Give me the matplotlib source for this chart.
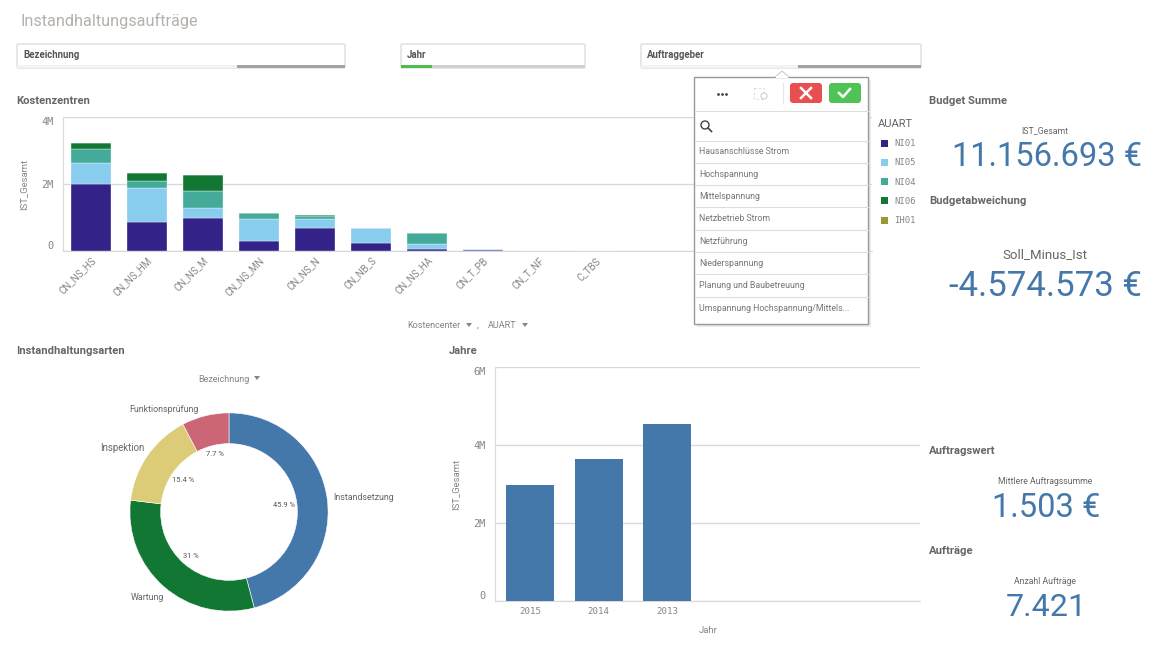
import matplotlib
matplotlib.use("Agg")
import matplotlib.pyplot as plt
from matplotlib.patches import Rectangle, FancyBboxPatch, Polygon

plt.rcParams["font.family"] = ["Roboto", "DejaVu Sans"]

W, H = 1163, 660

cost_centers = ["CN_NS_HS", "CN_NS_HM", "CN_NS_M", "CN_NS_MN", "CN_NS_N", "CN_NB_S",
                "CN_NS_HA", "CN_T_PB", "CN_T_NF", "C_TBS"]
ni01 = [2.00, 0.87, 1.00, 0.30, 0.69, 0.23, 0.05, 0.04, 0.008, 0.002]
ni05 = [0.63, 1.00, 0.28, 0.67, 0.28, 0.47, 0.16, 0.005, 0, 0]
ni04 = [0.42, 0.23, 0.51, 0.16, 0.07, 0, 0.32, 0, 0, 0]
ni06 = [0.17, 0.22, 0.49, 0, 0.02, 0, 0, 0, 0, 0]
ih01 = [0, 0, 0, 0, 0, 0, 0, 0, 0, 0]
auart_names = ["NI01", "NI05", "NI04", "NI06", "IH01"]
auart_colors = ["#332288", "#88ccee", "#44aa99", "#117733", "#999933"]

donut_labels = ["Instandsetzung", "Wartung", "Inspektion", "Funktionsprüfung"]
donut_values = [45.9, 31.0, 15.4, 7.7]
donut_pct = ["45.9 %", "31 %", "15.4 %", "7.7 %"]
donut_colors = ["#4477aa", "#117733", "#ddcc77", "#cc6677"]

years = ["2015", "2014", "2013"]
year_values = [2.97, 3.64, 4.54]

popup_items = ["Hausanschlüsse Strom", "Hochspannung", "Mittelspannung", "Netzbetrieb Strom",
               "Netzführung", "Niederspannung", "Planung und Baubetreuung",
               "Umspannung Hochspannung/Mittels..."]

GREY = "#858585"
HEAD = "#666666"
GRID = "#d9d9d9"
MONO = "DejaVu Sans Mono"


def pixel_axes(left, top, right, bottom, **kw):
    return fig.add_axes([left / W, 1 - bottom / H, (right - left) / W, (bottom - top) / H], **kw)


def y_tick_labels(a, labels):
    # first and last label sit inside the axis range
    a.set_yticklabels(labels, fontsize=7.4, color=GREY, family=MONO)
    ticks = a.get_yticklabels()
    ticks[0].set_va("bottom")
    ticks[-1].set_va("top")


fig = plt.figure(figsize=(W / 100, H / 100), dpi=100)

# stacked bars
ax = pixel_axes(63, 117, 872, 251)
bottom = [0] * len(cost_centers)
pos = list(range(len(cost_centers)))
for vals, c in zip([ni01, ni05, ni04, ni06, ih01], auart_colors):
    ax.bar(pos, vals, 0.71, bottom=bottom, color=c, edgecolor="white", linewidth=0.25, zorder=3)
    bottom = [b + v for b, v in zip(bottom, vals)]
ax.set_xlim(-0.5, 13.95)
ax.set_ylim(0, 4)
ax.set_yticks([0, 2, 4])
y_tick_labels(ax, ["0", "2M", "4M"])
ax.set_xticks(pos)
ax.set_xticklabels(cost_centers, rotation=45, ha="right", rotation_mode="anchor", fontsize=7, color=GREY)
ax.tick_params(axis="y", length=0, pad=7)
ax.tick_params(axis="x", length=0, pad=3)
ax.set_ylabel("IST_Gesamt", fontsize=6.8, color=GREY, labelpad=9)
ax.grid(axis="y", color=GRID, linewidth=1, zorder=0)
ax.spines[["top", "right"]].set_visible(False)
ax.spines[["left", "bottom"]].set_color(GRID)

# donut
ax2 = pixel_axes(119, 402, 339, 622)
ax2.pie(donut_values, colors=donut_colors, startangle=90, counterclock=False, radius=1,
        wedgeprops=dict(width=0.31, edgecolor="white", linewidth=0.4))
ax2.set_xlim(-1.11, 1.11)
ax2.set_ylim(-1.11, 1.11)

# yearly bars
ax3 = pixel_axes(495, 367, 920, 601)
ax3.bar(range(len(years)), year_values, 0.7, color="#4477aa", zorder=3)
ax3.set_xlim(-0.51, 5.69)
ax3.set_ylim(0, 6)
ax3.set_yticks([0, 2, 4, 6])
y_tick_labels(ax3, ["0", "2M", "4M", "6M"])
ax3.set_xticks(range(len(years)))
ax3.set_xticklabels(years, fontsize=6.6, color=GREY, family=MONO)
ax3.tick_params(axis="y", length=0, pad=7)
ax3.tick_params(axis="x", length=0, pad=4)
ax3.set_ylabel("IST_Gesamt", fontsize=6.8, color=GREY, labelpad=9)
ax3.set_xlabel("Jahr", fontsize=6.8, color=GREY)
ax3.xaxis.set_label_coords((708 - 495) / 425, -0.105)
ax3.grid(axis="y", color=GRID, linewidth=1, zorder=0)
ax3.spines[["top", "right"]].set_visible(False)
ax3.spines[["left", "bottom"]].set_color(GRID)

# overlay in pixel coordinates for the dashboard furniture
ov = fig.add_axes([0, 0, 1, 1], zorder=10)
ov.set_xlim(0, W)
ov.set_ylim(H, 0)
ov.axis("off")
ov.patch.set_alpha(0)


def label(x, y, s, size=7, color=GREY, ha="left", weight="normal", family=None):
    t = ov.text(x, y + 1, s, fontsize=size, color=color, ha=ha, va="center", fontweight=weight)
    if family:
        t.set_family(family)


label(20, 19.5, "Instandhaltungsaufträge", 11.7, "#b5b0ab")

# filter panes: (left, right, title, green end, grey start)
for l, r, name, green_end, grey_start in [(17, 345, "Bezeichnung", None, 237),
                                          (401, 585, "Jahr", 432, None),
                                          (641, 921, "Auftraggeber", None, 798)]:
    ov.add_patch(FancyBboxPatch((l, 44), r - l, 24, boxstyle="round,pad=0,rounding_size=1.5",
                                fc="white", ec="#dddddd", lw=1))
    label(l + 6, 53.5, name, 6.9, "#555555", weight="bold")
    ov.add_patch(Rectangle((l, 64.5), r - l, 3.5, fc="#d0d0d0" if green_end else "#f2f2f2", ec="none"))
    if green_end:
        ov.add_patch(Rectangle((l, 64.5), green_end - l, 3.5, fc="#4dbd50", ec="none"))
    if grey_start:
        ov.add_patch(Rectangle((grey_start, 64.5), r - grey_start, 3.5, fc="#a3a3a3", ec="none"))

for x, y, s in [(16, 100, "Kostenzentren"), (16, 351, "Instandhaltungsarten"), (449, 351, "Jahre"),
                (929, 100, "Budget Summe"), (929, 200, "Budgetabweichung"),
                (929, 451, "Auftragswert"), (929, 551, "Aufträge")]:
    label(x, y - 0.5, s, 8.1, HEAD, weight="bold")

# exploration menu labels under the charts
label(407, 324, "Kostencenter", 6.5)
ov.add_patch(Polygon([(466, 323), (472, 323), (469, 327)], fc=GREY, ec="none"))
label(477, 324, ",", 6.8)
label(488, 324, "AUART", 6.5)
ov.add_patch(Polygon([(522, 323), (528, 323), (525, 327)], fc=GREY, ec="none"))
label(198, 378, "Bezeichnung", 6.5)
ov.add_patch(Polygon([(254, 376), (260, 376), (257, 380)], fc=GREY, ec="none"))

# donut texts
for x, y, s, ha, size in [(333, 497, donut_labels[0], "left", 6.4), (164, 596, donut_labels[1], "right", 6.4),
                          (144, 447, donut_labels[2], "right", 6.9), (199, 408, donut_labels[3], "right", 6.4)]:
    label(x, y, s, size, "#666666", ha)
for x, y, s in [(284, 504.5, donut_pct[0]), (191, 555.5, donut_pct[1]), (183, 479.5, donut_pct[2]),
                (215, 453, donut_pct[3])]:
    label(x, y, s, 5.4, "#555555", "center")

# legend
label(878, 123, "AUART", 8, "#666666")
for i, (n, c) in enumerate(zip(auart_names, auart_colors)):
    y = 143 + i * 19.3
    ov.add_patch(Rectangle((881, y - 3.5), 7, 7, fc=c, ec="none"))
    label(894, y - 0.5, n, 6.4, GREY, family=MONO)

# KPIs
BLUE = "#4477aa"
label(1045, 129.5, "IST_Gesamt", 6.3, "#666666", "center")
label(1047, 156, "11.156.693 €", 23.5, BLUE, "center")
label(1045, 254, "Soll_Minus_Ist", 9.5, "#666666", "center")
label(1045, 285.5, "-4.574.573 €", 25, BLUE, "center")
label(1045, 480, "Mittlere Auftragssumme", 6.2, "#666666", "center")
label(1046, 507, "1.503 €", 23.5, BLUE, "center")
label(1045, 580, "Anzahl Aufträge", 6.2, "#666666", "center")
label(1046, 607, "7.421", 23.2, BLUE, "center")

# selection popup
ov.add_patch(Rectangle((696.5, 79.5), 174, 247, fc="#dddddd", ec="none", alpha=0.6))
ov.add_patch(Rectangle((694, 76.5), 174, 247, fc="white", ec="#999999", lw=1))
ov.add_patch(Polygon([(775, 77), (782, 71), (789, 77)], fc="white", ec="#cccccc", lw=0.8))
ov.add_patch(Rectangle((776, 76), 12, 2, fc="white", ec="none"))
ov.scatter([717.5, 721.5, 725.5], [94, 94, 94], s=4, color="#444444", linewidths=0)
ov.add_patch(Rectangle((754, 88), 10, 11, fc="white", ec="#dddddd", lw=0.8, ls=(0, (2, 2))))
ov.add_patch(plt.Circle((764, 96), 3, fc="white", ec="#cfcfcf", lw=0.8))
ov.plot([783, 783], [83, 103], color="#e6e6e6", lw=0.8)
ov.add_patch(FancyBboxPatch((790, 83), 32, 20, boxstyle="round,pad=0,rounding_size=3", fc="#e94f50", ec="none"))
ov.plot([801, 811], [88, 98], color="white", lw=1.8)
ov.plot([801, 811], [98, 88], color="white", lw=1.8)
ov.add_patch(FancyBboxPatch((829, 83), 32, 20, boxstyle="round,pad=0,rounding_size=3", fc="#4fc355", ec="none"))
ov.plot([839, 843, 850], [93, 97, 89], color="white", lw=1.8)
ov.plot([694.5, 868], [111, 111], color="#dddddd", lw=0.8)
ov.add_patch(plt.Circle((705, 125), 4, fc="none", ec="#444444", lw=1))
ov.plot([708, 711.5], [128, 131.5], color="#444444", lw=1.2)
for i, item in enumerate(popup_items):
    y = 140.5 + i * 22.3
    ov.plot([694.5, 868], [y, y], color="#dddddd", lw=0.8)
    label(699, y + 10.5, item, 6.3, "#777777")

fig.savefig("out.png", dpi=100)
